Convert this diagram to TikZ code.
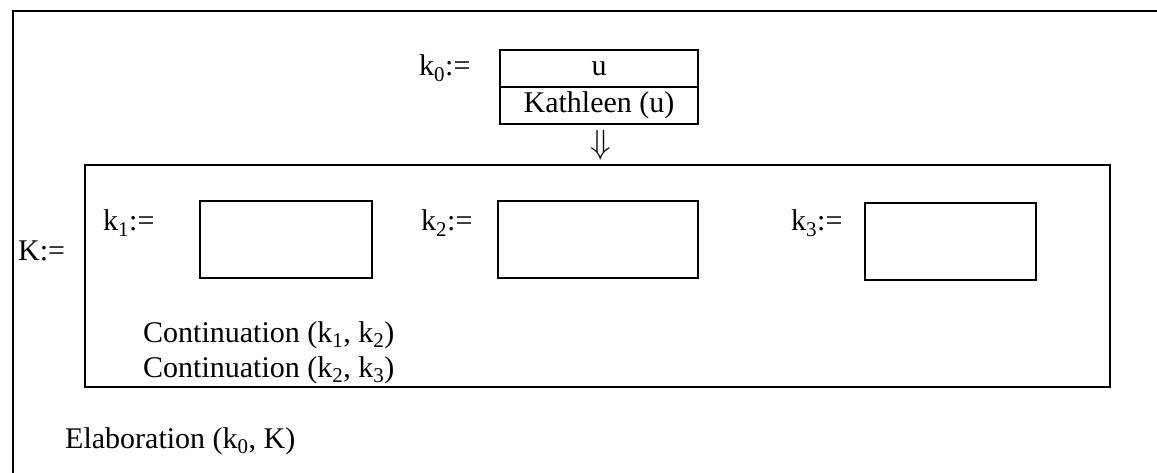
\documentclass[tikz,border=0pt]{standalone}
\usepackage{fontspec}
\usepackage{graphicx}
\setmainfont{Liberation Serif}
\begin{document}
\begin{tikzpicture}[x=1pt,y=-1pt,
  frame/.style={draw=black,line width=2pt},
  box/.style={draw=black,line width=2pt,minimum width=#1,minimum height=77pt,inner sep=0pt},
  lbl/.style={font=\fontsize{30}{34}\selectfont,inner sep=0pt,anchor=base west},
  cell/.style={draw=black,line width=2pt,minimum width=198pt,minimum height=37pt,inner sep=0pt,outer sep=0pt,font=\fontsize{30}{34}\selectfont}]
\useasboundingbox (0,0) rectangle (1157,473);
% outer frame
\draw[frame] (13,473) -- (13,11) -- (1157,11);
% k0 box
\node[cell] (u) at (599,68.5) {u};
\node[cell,anchor=north] (kath) at (u.south) {Kathleen (u)};
\node[lbl] (k0l) at (419,76) {k\textsubscript{0}:=};
% inner K box
\node[frame,minimum width=1025pt,minimum height=222pt,inner sep=0pt] (K) at (597.5,276) {};
\node[font=\fontsize{24}{26}\selectfont,inner sep=0pt] (dar) at (601,145) {\scalebox{1.35}{$\Downarrow$}};
\node[lbl] (Kl) at (18,261) {K:=};
\node[lbl] (k1l) at (103,231) {k\textsubscript{1}:=};
\node[lbl] (k2l) at (421,231) {k\textsubscript{2}:=};
\node[lbl] (k3l) at (791,231) {k\textsubscript{3}:=};
\node[box=172pt] (k1) at (286,239.5) {};
\node[box=200pt] (k2) at (598,240) {};
\node[box=171pt] (k3) at (950.5,241.5) {};
\node[lbl] (c1) at (143,342) {Continuation (k\textsubscript{1}, k\textsubscript{2})};
\node[lbl] (c2) at (143,377) {Continuation (k\textsubscript{2}, k\textsubscript{3})};
\node[lbl] (el) at (65,448) {Elaboration (k\textsubscript{0}, K)};
\end{tikzpicture}
\end{document}
